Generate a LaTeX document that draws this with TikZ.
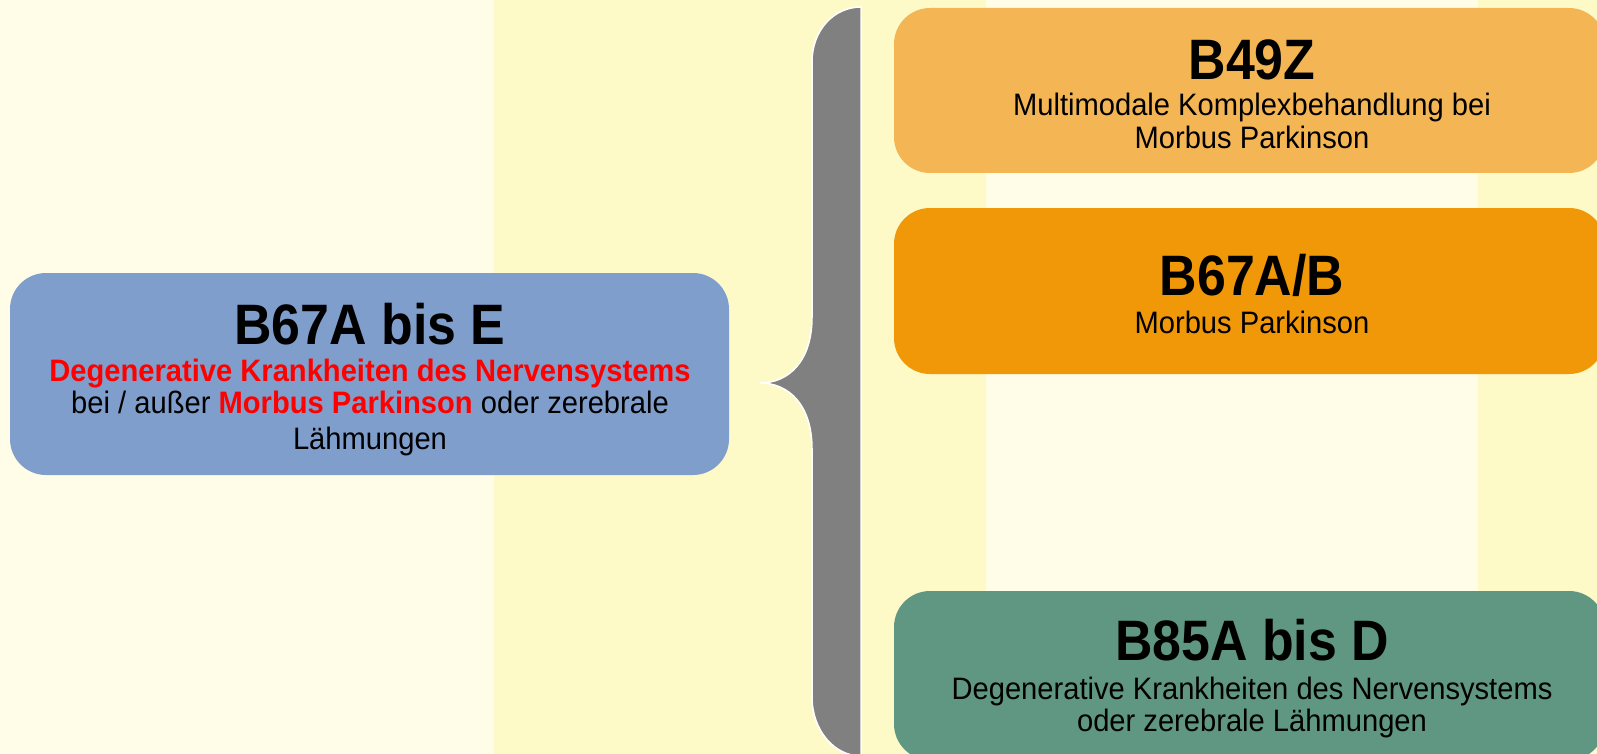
\documentclass[tikz,border=0pt]{standalone}
\usepackage{fontspec}
\setmainfont{Liberation Sans}
\newfontfamily\ttlfont{Liberation Sans}[FakeStretch=0.91]
\newfontfamily\txtfont{Liberation Sans}[FakeStretch=0.94]
\definecolor{bglight}{HTML}{FFFDE8}
\definecolor{bgyellow}{HTML}{FEFAC8}
\definecolor{boxblue}{HTML}{7F9ECB}
\definecolor{boxorangelight}{HTML}{F4B654}
\definecolor{boxorange}{HTML}{F09808}
\definecolor{boxgreen}{HTML}{5F9783}
\definecolor{bracegray}{HTML}{808080}
\definecolor{hired}{HTML}{FF0000}
\begin{document}
\begin{tikzpicture}[x=1pt,y=-1pt,
  box/.style={draw=none, rounded corners=36pt, inner sep=0pt},
  ttl/.style={anchor=base, inner sep=0pt, text=black, font=\ttlfont\bfseries\fontsize{57}{60}\selectfont},
  txt/.style={anchor=base, inner sep=0pt, text=black, font=\txtfont\fontsize{31}{35}\selectfont},
  redtxt/.style={txt, text=hired, font=\txtfont\bfseries\fontsize{31}{35}\selectfont}]
\useasboundingbox (0,0) rectangle (1597,754);
\clip (0,0) rectangle (1597,754);
% background stripes
\fill[bglight] (0,0) rectangle (494,754);
\fill[bgyellow] (494,0) rectangle (986,754);
\fill[bglight] (986,0) rectangle (1478,754);
\fill[bgyellow] (1478,0) rectangle (1597,754);
% brace
\filldraw[fill=bracegray, draw=white, line width=1.5pt]
  (861,7) .. controls (834,7) and (812,30) .. (812,62)
  -- (812,317) .. controls (812,362) and (788,383) .. (760,383)
  .. controls (788,383) and (812,404) .. (812,449)
  -- (812,697) .. controls (812,730) and (834,756) .. (861,756)
  -- cycle;
% boxes
\node[box, fill=boxblue, minimum width=719pt, minimum height=202pt] (left) at (369.5,374) {};
\node[box, fill=boxorangelight, minimum width=711pt, minimum height=165pt] (b49) at (1249.5,90.5) {};
\node[box, fill=boxorange, minimum width=711pt, minimum height=166pt] (b67) at (1249.5,291) {};
\node[box, fill=boxgreen, minimum width=711pt, minimum height=169pt] (b85) at (1249.5,675.5) {};
% left box text
\node[ttl] (lt) at (370,344) {B67A bis E};
\node[redtxt] (l1) at (370,381) {Degenerative Krankheiten des Nervensystems};
\node[txt] (l2) at (370,413.5) {bei / außer {\bfseries\color{hired}Morbus Parkinson} oder zerebrale};
\node[txt] (l3) at (370,449) {Lähmungen};
% B49Z
\node[ttl] (t49) at (1252,79.5) {B49Z};
\node[txt] (a49) at (1252,116) {Multimodale Komplexbehandlung bei};
\node[txt] (b49t) at (1252,149) {Morbus Parkinson};
% B67A/B
\node[ttl] (t67) at (1252,295) {B67A/B};
\node[txt] (a67) at (1252,333) {Morbus Parkinson};
% B85
\node[ttl] (t85) at (1252,660) {B85A bis D};
\node[txt] (a85) at (1252,699) {Degenerative Krankheiten des Nervensystems};
\node[txt] (b85t) at (1252,731) {oder zerebrale Lähmungen};
\end{tikzpicture}
\end{document}
